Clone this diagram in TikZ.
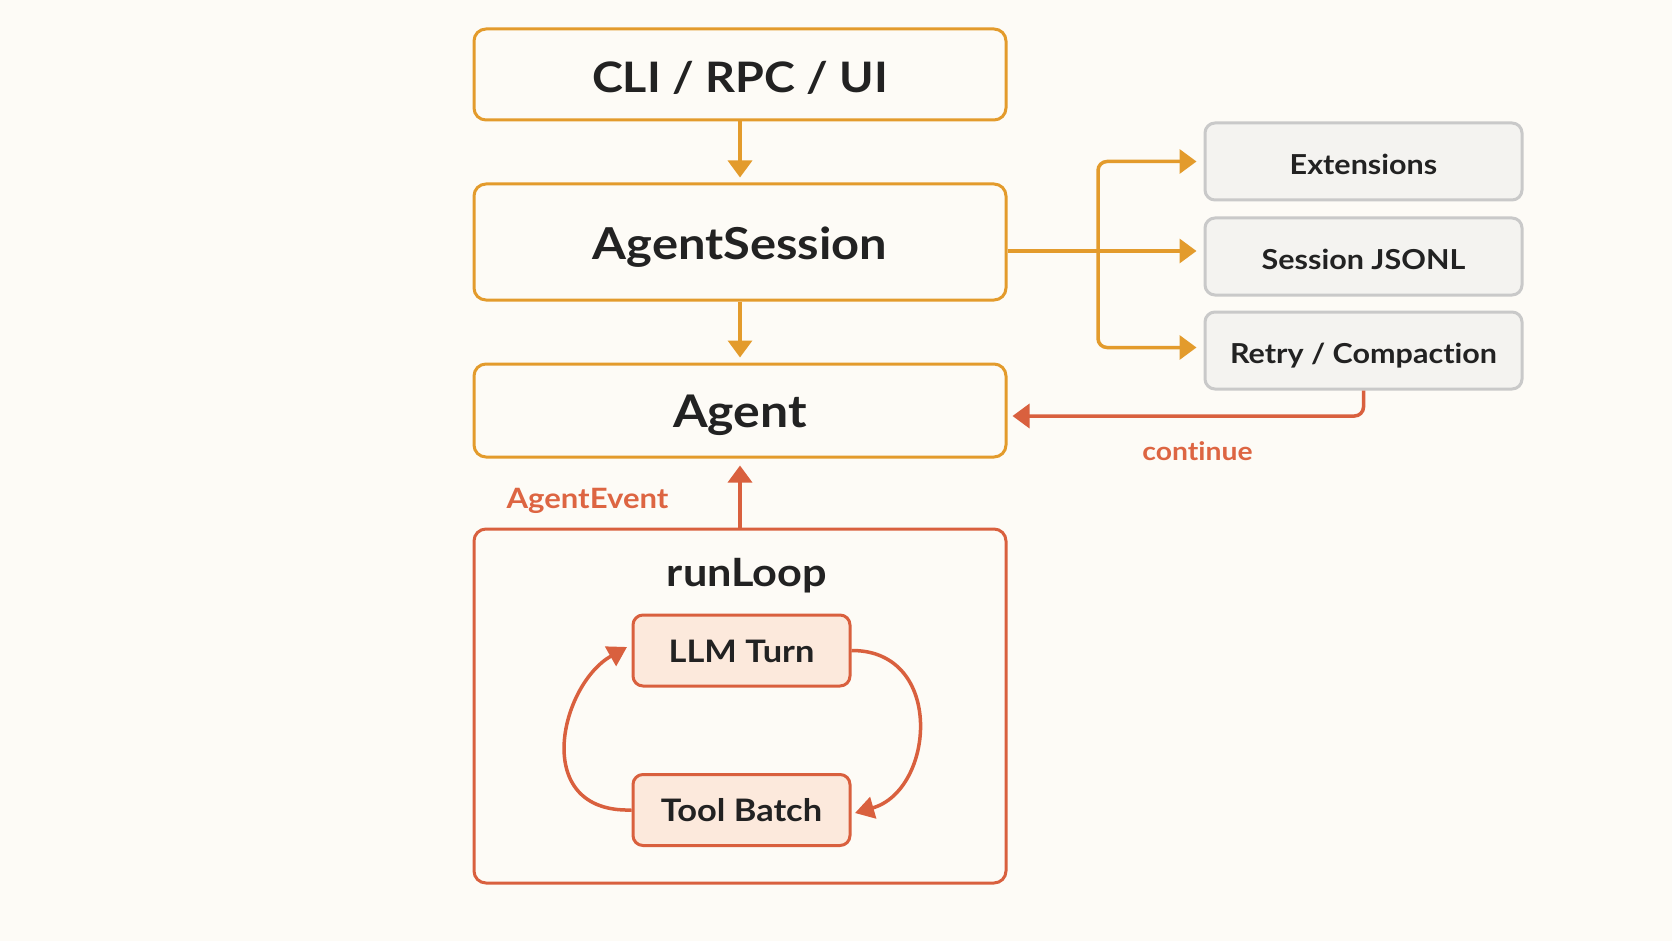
\documentclass[tikz,border=0pt]{standalone}
\usepackage{fontspec}
\setmainfont{Lato}[FakeStretch=1.11, Ligatures=CommonOff]
\usetikzlibrary{arrows.meta}
\definecolor{bgcol}{HTML}{FDFBF6}
\definecolor{orng}{HTML}{E39B2C}
\definecolor{redc}{HTML}{D9603E}
\definecolor{labc}{HTML}{DD6542}
\definecolor{greyb}{HTML}{C9C9C9}
\definecolor{greyf}{HTML}{F4F3F0}
\definecolor{llmf}{HTML}{FCE9DC}
\definecolor{txt}{HTML}{222222}
\tikzset{
  mainbox/.style={draw=orng, line width=3pt, rounded corners=12pt, fill=bgcol, minimum width=532pt, text=txt, font=\bfseries, text depth=0pt},
  sidebox/.style={draw=greyb, line width=3pt, rounded corners=10pt, fill=greyf, minimum width=317pt, minimum height=77pt, text=txt, font=\bfseries\fontsize{27.5}{32}\selectfont, text height=26pt, text depth=0pt},
  loopbox/.style={draw=redc, line width=3pt, rounded corners=12pt, minimum width=532pt, minimum height=354pt},
  innerbox/.style={draw=redc, line width=3pt, rounded corners=10pt, fill=llmf, minimum width=217pt, minimum height=71pt, text=txt, font=\bfseries\fontsize{31}{35}\selectfont, text height=23.5pt, text depth=0pt},
  oarrow/.style={draw=orng, line width=3.5pt, -{Triangle[length=17pt,width=24pt]}},
  oline/.style={draw=orng, line width=3.5pt},
  rarrow/.style={draw=redc, line width=3.5pt, -{Triangle[length=17pt,width=24pt]}},
  larrow/.style={draw=redc, line width=3.5pt, -{Triangle[length=19pt,width=22pt]}},
  rlabel/.style={text=labc, anchor=base},
}
\begin{document}
\begin{tikzpicture}[x=1pt,y=-1pt]
\fill[bgcol] (0,0) rectangle (1672,941);
\useasboundingbox (0,0) rectangle (1672,941);

\node[mainbox, minimum height=91pt, text height=37pt, font=\bfseries\fontsize{42}{46}\selectfont] (cli) at (740,74.5) {CLI / RPC / UI};
\node[mainbox, minimum height=116pt, text height=35.5pt, font=\bfseries\fontsize{44}{48}\selectfont] (sess) at (740,242) {AgentSession};
\node[mainbox, minimum height=93pt, text height=34pt, font=\bfseries\fontsize{45}{49}\selectfont] (agent) at (740,410.5) {Agent};
\node[loopbox] (loop) at (740,706) {};
\node[text=txt, anchor=base, font=\bfseries\fontsize{39}{43}\selectfont] (looplbl) at (747,586) {runLoop};
\node[innerbox] (llm) at (741.5,650.5) {LLM Turn};
\node[innerbox] (tool) at (741.5,810) {Tool Batch};

\node[sidebox] (ext) at (1363.5,161.5) {Extensions};
\node[sidebox] (jsonl) at (1363.5,256.5) {Session JSONL};
\node[sidebox] (retry) at (1363.5,350.5) {Retry / Compaction};

\draw[oarrow, shorten >=5pt] (cli) -- (sess);
\draw[oarrow, shorten >=5pt] (sess) -- (agent);

\coordinate (br) at (1098,251);
\draw[oline] ([yshift=-9pt]sess.east) -- (br);
\draw[oarrow, shorten >=7pt] (br) -- (jsonl.west |- br);
\draw[oarrow, rounded corners=9pt, shorten >=7pt] (br) |- (ext.west);
\draw[oarrow, rounded corners=9pt, shorten >=7pt] (br) |- ([yshift=3pt]retry.west);

\draw[rarrow, rounded corners=9pt, shorten >=5pt] (retry.south) |- ([yshift=-5.5pt]agent.east);
\node[rlabel, font=\bfseries\fontsize{25.5}{30}\selectfont] (cont) at (1197.5,460) {continue};

\draw[rarrow, shorten >=7pt] (loop.north) -- (agent.south);
\node[rlabel, font=\bfseries\fontsize{28}{32}\selectfont] (evt) at (587.5,508) {AgentEvent};

\draw[larrow] (tool.west) .. controls (530,813) and (560,685) .. ([xshift=-4.5pt,yshift=3.5pt]llm.west);
\draw[larrow] (llm.east) .. controls (945,650) and (935,790) .. ([xshift=3.5pt,yshift=-3pt]tool.east);
\end{tikzpicture}
\end{document}
